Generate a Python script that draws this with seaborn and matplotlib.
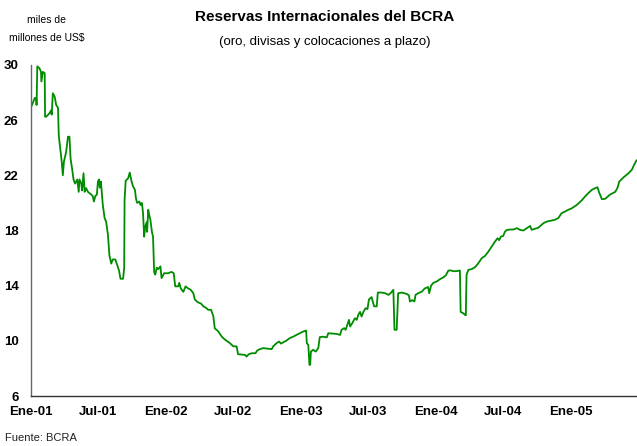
import pandas as pd
import matplotlib.pyplot as plt
import seaborn as sns

# reservas del BCRA, miles de millones de US$
fechas = [
	"2001-01-02", "2001-01-11", "2001-01-15", "2001-01-16", "2001-01-18", "2001-01-24", "2001-01-28", "2001-01-29",
	"2001-02-02", "2001-02-07", "2001-02-08", "2001-02-11", "2001-02-20", "2001-02-24", "2001-02-26", "2001-03-01",
	"2001-03-06", "2001-03-10", "2001-03-15", "2001-03-17", "2001-03-22", "2001-03-25", "2001-03-28", "2001-03-31",
	"2001-04-06", "2001-04-11", "2001-04-15", "2001-04-18", "2001-04-22", "2001-04-26", "2001-04-30", "2001-05-06",
	"2001-05-10", "2001-05-12", "2001-05-17", "2001-05-19", "2001-05-23", "2001-05-26", "2001-05-30", "2001-06-04",
	"2001-06-13", "2001-06-17", "2001-06-20", "2001-06-24", "2001-06-28", "2001-07-01", "2001-07-04", "2001-07-06",
	"2001-07-09", "2001-07-12", "2001-07-14", "2001-07-19", "2001-07-23", "2001-07-28", "2001-08-01", "2001-08-06",
	"2001-08-10", "2001-08-17", "2001-08-22", "2001-08-27", "2001-08-31", "2001-09-07", "2001-09-10", "2001-09-11",
	"2001-09-14", "2001-09-21", "2001-09-25", "2001-09-30", "2001-10-04", "2001-10-09", "2001-10-12", "2001-10-15",
	"2001-10-21", "2001-10-24", "2001-10-28", "2001-10-31", "2001-11-03", "2001-11-06", "2001-11-10", "2001-11-11",
	"2001-11-14", "2001-11-17", "2001-11-20", "2001-11-24", "2001-11-27", "2001-11-30", "2001-12-03", "2001-12-07",
	"2001-12-11", "2001-12-17", "2001-12-20", "2001-12-27", "2002-01-07", "2002-01-16", "2002-01-22", "2002-01-26",
	"2002-02-03", "2002-02-06", "2002-02-10", "2002-02-17", "2002-02-23", "2002-03-02", "2002-03-09", "2002-03-16",
	"2002-03-20", "2002-03-28", "2002-04-06", "2002-04-12", "2002-04-19", "2002-04-25", "2002-05-03", "2002-05-09",
	"2002-05-13", "2002-05-22", "2002-06-01", "2002-06-09", "2002-06-23", "2002-07-02", "2002-07-11", "2002-07-15",
	"2002-07-25", "2002-08-03", "2002-08-07", "2002-08-13", "2002-08-21", "2002-08-31", "2002-09-05", "2002-09-12",
	"2002-09-21", "2002-10-14", "2002-10-18", "2002-10-27", "2002-11-03", "2002-11-08", "2002-11-23", "2002-12-02",
	"2002-12-11", "2002-12-20", "2002-12-29", "2003-01-07", "2003-01-15", "2003-01-17", "2003-01-21", "2003-01-24",
	"2003-01-26", "2003-01-28", "2003-02-03", "2003-02-10", "2003-02-17", "2003-02-21", "2003-03-02", "2003-03-12",
	"2003-03-16", "2003-04-08", "2003-04-17", "2003-04-21", "2003-04-28", "2003-05-02", "2003-05-08", "2003-05-11",
	"2003-05-14", "2003-05-20", "2003-05-27", "2003-06-01", "2003-06-05", "2003-06-10", "2003-06-14", "2003-06-19",
	"2003-06-25", "2003-06-30", "2003-07-04", "2003-07-11", "2003-07-18", "2003-07-25", "2003-07-28", "2003-08-08",
	"2003-08-17", "2003-08-26", "2003-09-02", "2003-09-08", "2003-09-11", "2003-09-17", "2003-09-21", "2003-10-01",
	"2003-10-14", "2003-10-20", "2003-10-23", "2003-10-29", "2003-11-04", "2003-11-07", "2003-11-14", "2003-11-24",
	"2003-12-02", "2003-12-11", "2003-12-14", "2003-12-19", "2003-12-25", "2004-01-03", "2004-01-12", "2004-01-21",
	"2004-01-28", "2004-02-04", "2004-02-11", "2004-02-17", "2004-02-26", "2004-03-06", "2004-03-08", "2004-03-15",
	"2004-03-20", "2004-03-22", "2004-03-24", "2004-03-29", "2004-04-07", "2004-04-16", "2004-04-25", "2004-05-04",
	"2004-05-13", "2004-05-22", "2004-05-31", "2004-06-09", "2004-06-16", "2004-06-20", "2004-06-25", "2004-07-01",
	"2004-07-06", "2004-07-11", "2004-07-20", "2004-07-29", "2004-08-07", "2004-08-16", "2004-08-25", "2004-09-03",
	"2004-09-12", "2004-09-16", "2004-09-22", "2004-10-04", "2004-10-18", "2004-10-27", "2004-11-09", "2004-11-18",
	"2004-11-27", "2004-12-06", "2004-12-15", "2004-12-24", "2005-01-02", "2005-01-16", "2005-01-30", "2005-02-07",
	"2005-02-16", "2005-02-26", "2005-03-07", "2005-03-13", "2005-03-17", "2005-03-25", "2005-04-03", "2005-04-16",
	"2005-04-30", "2005-05-06", "2005-05-11", "2005-05-22", "2005-06-05", "2005-06-14", "2005-06-20", "2005-06-27",
]
reservas = [
	27.0, 27.6, 27.6, 27.1, 29.9, 29.76, 29.5, 28.8,
	29.5, 29.4, 26.25, 26.25, 26.5, 26.7, 26.4, 27.95,
	27.7, 27.1, 26.9, 24.9, 23.7, 23.0, 22.0, 23.0,
	23.7, 24.8, 24.8, 23.2, 22.5, 21.7, 21.4, 21.7,
	20.8, 21.7, 21.4, 20.9, 22.15, 20.8, 21.07, 20.8,
	20.6, 20.5, 20.1, 20.5, 20.6, 21.55, 21.7, 21.1,
	21.55, 20.6, 19.9, 18.9, 18.65, 17.7, 16.2, 15.6,
	15.9, 15.9, 15.5, 15.1, 14.5, 14.5, 15.3, 20.2,
	21.6, 21.8, 22.2, 21.55, 21.2, 20.95, 20.3, 20.0,
	20.1, 19.85, 20.0, 19.25, 17.55, 18.3, 18.6, 17.9,
	19.5, 19.1, 18.75, 17.9, 17.55, 15.0, 14.8, 15.3,
	15.2, 15.4, 14.55, 14.9, 14.9, 15.0, 14.9, 13.95,
	13.95, 14.2, 13.8, 13.55, 13.95, 13.8, 13.7, 13.45,
	13.0, 12.8, 12.7, 12.5, 12.4, 12.25, 12.25, 11.8,
	10.9, 10.7, 10.3, 10.1, 9.83, 9.6, 9.6, 9.03,
	9.0, 8.98, 8.86, 9.03, 9.1, 9.1, 9.3, 9.4,
	9.47, 9.4, 9.6, 9.83, 9.95, 9.8, 10.02, 10.2,
	10.3, 10.43, 10.55, 10.67, 10.75, 9.83, 9.7, 8.26,
	8.26, 9.22, 9.35, 9.22, 9.47, 10.27, 10.3, 10.25,
	10.55, 10.5, 10.43, 10.8, 10.92, 10.8, 11.28, 11.52,
	11.04, 11.28, 11.64, 11.52, 11.88, 12.1, 11.76, 12.1,
	12.37, 12.3, 13.0, 13.17, 12.5, 12.5, 13.5, 13.5,
	13.45, 13.33, 13.5, 13.7, 10.8, 10.8, 13.45, 13.5,
	13.4, 13.3, 12.85, 12.95, 12.85, 13.33, 13.45, 13.57,
	13.8, 13.9, 13.45, 14.0, 14.2, 14.3, 14.47, 14.6,
	14.75, 15.1, 15.1, 15.05, 15.05, 15.1, 12.1, 12.0,
	11.88, 11.85, 14.78, 15.15, 15.2, 15.34, 15.63, 15.99,
	16.16, 16.47, 16.83, 17.2, 17.44, 17.3, 17.56, 17.6,
	17.92, 18.04, 18.07, 18.07, 18.17, 18.04, 18.0, 18.17,
	18.33, 18.05, 18.1, 18.2, 18.53, 18.65, 18.72, 18.78,
	18.9, 19.25, 19.37, 19.5, 19.6, 19.85, 20.2, 20.45,
	20.7, 20.95, 21.07, 21.14, 20.8, 20.27, 20.3, 20.6,
	20.8, 21.07, 21.55, 21.84, 22.15, 22.4, 22.75, 23.1,
]
tick_fechas = ["2001-01-01", "2001-07-01", "2002-01-01", "2002-07-01", "2003-01-01",
			   "2003-07-01", "2004-01-01", "2004-07-01", "2005-01-01"]
tick_labels = ["Ene-01", "Jul-01", "Ene-02", "Jul-02", "Ene-03", "Jul-03", "Ene-04", "Jul-04", "Ene-05"]
y_ticks = [6, 10, 14, 18, 22, 26, 30]

df = pd.DataFrame({"fecha": pd.to_datetime(fechas), "reservas": reservas})

sns.set_style("white")
plt.rcParams["font.family"] = ["Liberation Sans", "DejaVu Sans"]
plt.rcParams["text.color"] = "black"
plt.rcParams["xtick.color"] = "black"
plt.rcParams["ytick.color"] = "black"

fig = plt.figure(figsize=(6.37, 4.46), dpi=100)
ax = fig.add_axes([0.0487, 0.1121, 0.9513, 0.7422])

sns.lineplot(x="fecha", y="reservas", data=df, ax=ax, color="#008c00", linewidth=1.3)

ax.set_xlim(pd.Timestamp("2001-01-01"), pd.Timestamp("2005-06-28"))
ax.set_ylim(6, 30)
ax.set_xticks(pd.to_datetime(tick_fechas))
ax.set_xticklabels(tick_labels, fontsize=9.5, fontweight="bold")
ax.set_yticks(y_ticks)
ax.set_yticklabels([str(v) for v in y_ticks], fontsize=9.5, fontweight="bold")
ax.tick_params(axis="both", direction="in", length=4, width=0.8, color="#333333")
ax.tick_params(axis="x", pad=7)
ax.tick_params(axis="y", pad=9)
ax.set_xlabel("")
ax.set_ylabel("")
ax.grid(False)
for side in ["top", "right"]:
	ax.spines[side].set_visible(False)
ax.spines["left"].set_color("#666666")
ax.spines["bottom"].set_color("#333333")
ax.spines["left"].set_linewidth(1.0)
ax.spines["bottom"].set_linewidth(1.0)

fig.text(0.510, 0.962, "Reservas Internacionales del BCRA", ha="center", va="center",
		 fontsize=11, fontweight="bold")
fig.text(0.510, 0.906, "(oro, divisas y colocaciones a plazo)", ha="center", va="center",
		 fontsize=9.5)
fig.text(0.073, 0.955, "miles de", ha="center", va="center", fontsize=7.5)
fig.text(0.073, 0.915, "millones de US$", ha="center", va="center", fontsize=7.5)
fig.text(0.008, 0.018, "Fuente: BCRA", ha="left", va="center", fontsize=8, color="#222222")

plt.savefig("out.png", dpi=100)
plt.close()
